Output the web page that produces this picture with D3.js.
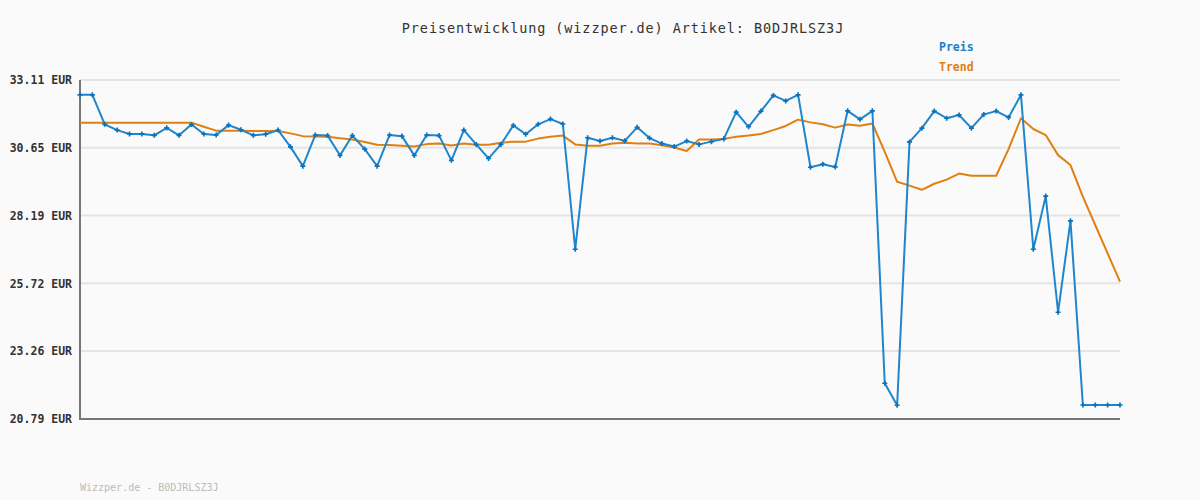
<!DOCTYPE html>
<html><head><meta charset="utf-8">
<script src="https://cdn.jsdelivr.net/npm/d3@7"></script>
<style>
html,body{margin:0;padding:0;background:#fafafa;}
svg{display:block;}
</style></head>
<body>
<svg id="chart" width="1200" height="500"></svg>
<script>
const title = "Preisentwicklung (wizzper.de) Artikel: B0DJRLSZ3J";
const footer = "Wizzper.de - B0DJRLSZ3J";
const seriesNames = ["Preis", "Trend"];
const yTicks = [20.79, 23.26, 25.72, 28.19, 30.65, 33.11];
const preis = [
  32.57, 32.57, 31.50, 31.29, 31.15, 31.15, 31.10, 31.37, 31.10, 31.49,
  31.15, 31.11, 31.47, 31.30, 31.10, 31.14, 31.29, 30.68, 29.98, 31.11,
  31.09, 30.37, 31.09, 30.60, 29.98, 31.11, 31.07, 30.37, 31.11, 31.09,
  30.19, 31.29, 30.77, 30.26, 30.77, 31.46, 31.14, 31.50, 31.69, 31.51,
  26.96, 31.01, 30.89, 31.01, 30.90, 31.39, 31.00, 30.80, 30.69, 30.89,
  30.77, 30.87, 30.97, 31.94, 31.41, 31.98, 32.55, 32.35, 32.57, 29.94,
  30.05, 29.95, 31.99, 31.68, 31.99, 22.09, 21.29, 30.86, 31.36, 31.98,
  31.72, 31.84, 31.36, 31.86, 31.98, 31.75, 32.57, 26.96, 28.89, 24.67,
  27.99, 21.30, 21.30, 21.30, 21.30
];
const trend = [
  31.56, 31.56, 31.56, 31.56, 31.56, 31.56, 31.56, 31.56, 31.56, 31.56,
  31.41, 31.27, 31.27, 31.27, 31.26, 31.26, 31.26, 31.17, 31.07, 31.06,
  31.05, 30.99, 30.95, 30.86, 30.76, 30.75, 30.72, 30.69, 30.78, 30.80,
  30.73, 30.80, 30.76, 30.76, 30.83, 30.87, 30.87, 30.98, 31.05, 31.09,
  30.77, 30.72, 30.72, 30.80, 30.83, 30.80, 30.80, 30.74, 30.66, 30.53,
  30.95, 30.95, 30.97, 31.05, 31.09, 31.15, 31.29, 31.44, 31.67, 31.57,
  31.50, 31.38, 31.49, 31.45, 31.53, 30.50, 29.41, 29.27, 29.12, 29.34,
  29.49, 29.71, 29.63, 29.63, 29.63, 30.60, 31.72, 31.33, 31.11, 30.38,
  30.02, 28.87, 27.84, 26.81, 25.78
];
const index = d3.range(preis.length);

const svg = d3.select("#chart");
const mLeft = 80, mRight = 1120, mTop = 80, mBottom = 419;
const x = d3.scaleLinear().domain([0, preis.length - 1]).range([mLeft, mRight]);
const y = d3.scaleLinear().domain([yTicks[0], yTicks[yTicks.length - 1]]).range([mBottom, mTop]);
const mono = "'DejaVu Sans Mono', 'Liberation Mono', monospace";

svg.append("rect").attr("width", 1200).attr("height", 500).attr("fill", "#fafafa");

// gridlines
svg.append("g").selectAll("line").data(yTicks.slice(1)).join("line")
  .attr("x1", mLeft).attr("x2", mRight)
  .attr("y1", d => y(d)).attr("y2", d => y(d))
  .attr("stroke", "#e4e4e4").attr("stroke-width", 2);

// y axis labels
const yAxis = d3.axisLeft(y).tickValues(yTicks).tickSize(0).tickPadding(8)
  .tickFormat(d => d.toFixed(2) + " EUR");
const gy = svg.append("g").attr("transform", `translate(${mLeft},0)`).call(yAxis);
gy.select(".domain").remove();
gy.selectAll("text").attr("font-family", mono).attr("font-size", 11.5)
  .attr("font-weight", "bold").attr("fill", "#333");

// axes lines
svg.append("line").attr("x1", mLeft).attr("x2", mLeft).attr("y1", mTop).attr("y2", mBottom + 1)
  .attr("stroke", "#777").attr("stroke-width", 2);
svg.append("line").attr("x1", mLeft - 1).attr("x2", mRight).attr("y1", mBottom).attr("y2", mBottom)
  .attr("stroke", "#777").attr("stroke-width", 2);

const line = arr => d3.line().x(i => x(i)).y(i => y(arr[i]))(index);

svg.append("path").attr("d", line(trend)).attr("fill", "none")
  .attr("stroke", "#e07f12").attr("stroke-width", 2).attr("stroke-linejoin", "round");
svg.append("path").attr("d", line(preis)).attr("fill", "none")
  .attr("stroke", "#1f86cc").attr("stroke-width", 2).attr("stroke-linejoin", "round");

svg.append("g").selectAll("path").data(index).join("path")
  .attr("transform", i => `translate(${x(i)},${y(preis[i])})`)
  .attr("d", d3.symbol(d3.symbolCross, 14))
  .attr("fill", "#0b72bb");

// title
svg.append("text").attr("x", 623).attr("y", 33).attr("text-anchor", "middle")
  .attr("font-family", mono).attr("font-size", 13.5).attr("letter-spacing", 0.9)
  .attr("fill", "#333").text(title);

// legend
const legColors = ["#1a7fc6", "#e07f12"];
svg.append("g").selectAll("text").data(seriesNames).join("text")
  .attr("x", 939).attr("y", (d, i) => 51 + i * 20)
  .attr("font-family", mono).attr("font-size", 11.5).attr("font-weight", "bold")
  .attr("fill", (d, i) => legColors[i]).text(d => d);

// footer
svg.append("text").attr("x", 80).attr("y", 491)
  .attr("font-family", mono).attr("font-size", 10).attr("fill", "#bbb").text(footer);
</script>
</body></html>
